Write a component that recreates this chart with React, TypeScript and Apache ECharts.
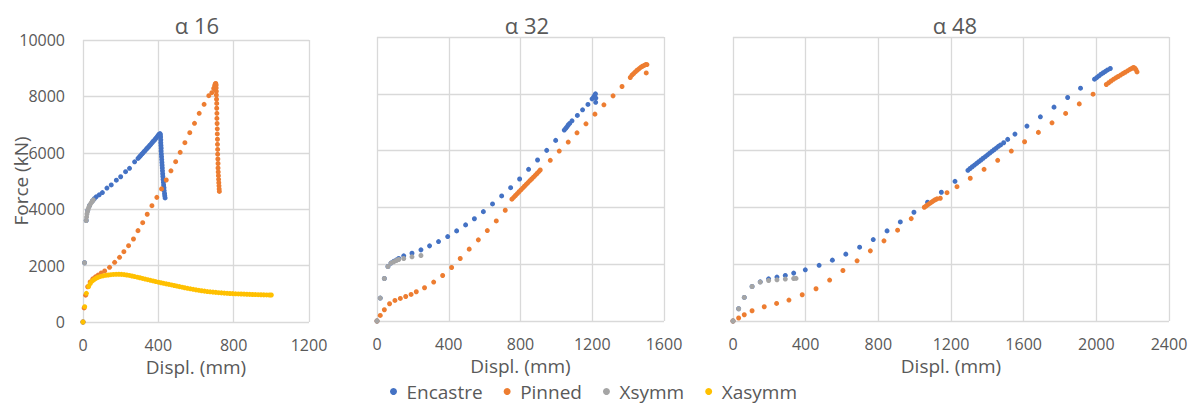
import React, { useEffect, useRef } from "react";
import * as echarts from "echarts";

const seriesNames = ["Encastre", "Pinned", "Xsymm", "Xasymm"];
const seriesColors = ["#4472C4", "#ED7D31", "#A5A5A5", "#FFC000"];
const panelTitles = ["α 16", "α 32", "α 48"];
const xMaxes = [1200, 1600, 2400];
const xInterval = 400;
const yMax = 10000;
const yInterval = 2000;

// ---- α 16 ----
const a16Encastre = [
  [0, 0], [8, 2100], [17, 3600], [25, 3950], [35, 4130], [50, 4290], [60, 4370], [70, 4440], [86, 4510],
  [103, 4590], [127, 4750], [150, 4860], [177, 5030], [200, 5150], [226, 5330], [247, 5450], [274, 5680],
  [292, 5800], [300, 5860], [306, 5900], [312, 5950], [318, 5990], [324, 6040], [330, 6080], [336, 6130],
  [342, 6170], [348, 6210], [354, 6260], [360, 6300], [366, 6350], [372, 6400], [378, 6440], [384, 6490],
  [390, 6540], [396, 6590], [401, 6630], [405, 6660], [409, 6680], [411, 6640], [412, 6560], [413, 6460],
  [413, 6360], [414, 6260], [415, 6160], [415, 6060], [416, 5960], [417, 5860], [418, 5760], [419, 5660],
  [420, 5560], [421, 5460], [422, 5360], [423, 5260], [424, 5160], [425, 5060], [427, 4960], [428, 4860],
  [430, 4760], [431, 4660], [433, 4560], [434, 4480], [436, 4400],
];
const a16Pinned = [
  [0, 0], [6, 500], [14, 950], [25, 1250], [38, 1420], [52, 1530], [66, 1600], [80, 1665], [97, 1740],
  [115, 1810], [141, 1940], [168, 2117], [194, 2294], [217, 2493], [242, 2706], [268, 2943], [292, 3240],
  [317, 3522], [341, 3820], [366, 4125], [392, 4420], [417, 4720], [442, 5035], [467, 5360], [492, 5685],
  [516, 6017], [541, 6358], [567, 6713], [592, 7045], [617, 7400], [643, 7720], [668, 8025], [684, 8131],
  [694, 8280], [699, 8380], [702, 8440], [705, 8460], [707, 8400], [707, 8300], [708, 8180], [708, 8050],
  [709, 7900], [710, 7750], [710, 7580], [711, 7400], [711, 7220], [712, 7040], [713, 6850], [713, 6670],
  [714, 6480], [714, 6300], [715, 6120], [715, 5950], [716, 5780], [717, 5620], [717, 5460], [718, 5320],
  [719, 5190], [720, 5060], [721, 4940], [722, 4830], [723, 4720], [724, 4630],
];
const a16Xsymm = [
  [0, 0], [8, 2100], [17, 3600], [19, 3720], [21, 3830], [24, 3920], [27, 4000], [31, 4070], [35, 4130],
  [40, 4190], [45, 4240], [50, 4290], [55, 4330],
];
const a16Xasymm = [
  [0, 0], [9, 543], [18, 1017], [30, 1260], [38, 1360], [46, 1440], [55, 1490], [64, 1530], [73, 1565],
  [82, 1590], [93, 1615], [106, 1635], [120, 1655], [134, 1668], [148, 1678], [162, 1686], [176, 1690],
  [190, 1692], [204, 1688], [218, 1680], [232, 1668], [246, 1652], [260, 1632], [274, 1612], [288, 1590],
  [302, 1568], [316, 1546], [330, 1522], [344, 1500], [358, 1478], [372, 1456], [386, 1434], [400, 1412],
  [414, 1392], [428, 1372], [442, 1352], [456, 1334], [470, 1314], [484, 1294], [498, 1274], [512, 1254],
  [526, 1234], [540, 1214], [555, 1195], [570, 1176], [585, 1158], [600, 1140], [615, 1124], [630, 1108],
  [645, 1094], [660, 1080], [675, 1070], [690, 1060], [705, 1050], [720, 1040], [735, 1032], [750, 1024],
  [765, 1018], [780, 1012], [795, 1006], [810, 1000], [825, 996], [840, 992], [855, 988], [870, 984],
  [885, 980], [900, 976], [915, 972], [930, 968], [945, 965], [960, 962], [975, 960], [990, 958], [1000, 957],
];

// ---- α 32 ----
const a32Encastre = [
  [0, 0], [18, 808], [41, 1497], [61, 1919], [78, 2040], [93, 2100], [108, 2150], [121, 2200], [149, 2294],
  [195, 2389], [245, 2505], [293, 2646], [343, 2797], [394, 2973], [444, 3173], [494, 3384], [543, 3600],
  [593, 3851], [644, 4122], [695, 4403], [745, 4695], [795, 5000], [845, 5341], [895, 5668], [946, 6008],
  [996, 6360], [1044, 6722], [1052, 6780], [1059, 6838], [1066, 6900], [1074, 6957], [1087, 7049],
  [1117, 7238], [1146, 7435], [1176, 7625], [1199, 7822], [1208, 7892], [1214, 7950], [1218, 8000],
  [1220, 7850], [1219, 7700],
];
const a32Pinned = [
  [0, 0], [18, 197], [41, 397], [70, 608], [100, 724], [130, 794], [160, 864], [190, 935], [219, 1030],
  [265, 1170], [316, 1370], [366, 1602], [416, 1883], [464, 2200], [514, 2530], [565, 2857], [615, 3184],
  [665, 3524], [715, 3900], [752, 4290], [762, 4355], [772, 4420], [782, 4485], [792, 4550], [802, 4615],
  [812, 4680], [822, 4745], [832, 4810], [842, 4875], [852, 4940], [862, 5000], [872, 5065], [882, 5130],
  [892, 5195], [902, 5260], [910, 5316], [966, 5657], [1016, 5984], [1066, 6300], [1115, 6627], [1165, 6943],
  [1215, 7284], [1265, 7611], [1316, 7927], [1366, 8257], [1412, 8573], [1421, 8655], [1430, 8710],
  [1440, 8770], [1450, 8830], [1460, 8880], [1470, 8930], [1480, 8970], [1490, 9000], [1498, 9030],
  [1505, 9030], [1501, 8735],
];
const a32Xsymm = [
  [0, 0], [18, 808], [41, 1497], [61, 1919], [78, 2038], [93, 2084], [108, 2130], [121, 2165], [149, 2200],
  [195, 2259], [245, 2306],
];
const a32Xasymm: number[][] = [];

// ---- α 48 ----
const a48Encastre = [
  [0, 0], [31, 432], [62, 830], [105, 1216], [150, 1380], [196, 1486], [242, 1546], [288, 1602], [334, 1686],
  [398, 1803], [474, 1960], [547, 2143], [621, 2354], [697, 2600], [772, 2867], [848, 3173], [921, 3489],
  [996, 3830], [1071, 4181], [1147, 4533], [1222, 4919], [1293, 5305], [1305, 5370], [1317, 5430],
  [1329, 5490], [1341, 5550], [1353, 5610], [1365, 5670], [1377, 5730], [1389, 5790], [1401, 5850],
  [1413, 5910], [1425, 5970], [1437, 6030], [1449, 6090], [1461, 6150], [1473, 6200], [1490, 6276],
  [1512, 6395], [1552, 6581], [1618, 6862], [1692, 7189], [1767, 7530], [1842, 7871], [1913, 8198],
  [1990, 8514], [2002, 8570], [2014, 8630], [2026, 8690], [2038, 8740], [2050, 8790], [2062, 8840],
  [2077, 8890],
];
const a48Pinned = [
  [0, 0], [31, 105], [62, 221], [105, 362], [172, 502], [240, 618], [308, 738], [381, 924], [457, 1135],
  [532, 1441], [605, 1778], [683, 2119], [756, 2470], [831, 2822], [906, 3197], [981, 3605], [1053, 4006],
  [1063, 4050], [1073, 4095], [1083, 4140], [1093, 4185], [1103, 4230], [1113, 4270], [1123, 4300],
  [1141, 4322], [1178, 4519], [1233, 4730], [1306, 5025], [1382, 5341], [1457, 5657], [1532, 5984],
  [1605, 6311], [1681, 6641], [1756, 6978], [1831, 7308], [1906, 7645], [1982, 7987], [2055, 8327],
  [2068, 8390], [2081, 8450], [2094, 8510], [2107, 8560], [2120, 8610], [2133, 8660], [2146, 8710],
  [2159, 8760], [2172, 8810], [2185, 8860], [2197, 8900], [2205, 8925], [2212, 8900], [2218, 8850],
  [2224, 8770],
];
const a48Xsymm = [
  [0, 0], [31, 432], [62, 830], [105, 1216], [150, 1370], [196, 1427], [242, 1451], [288, 1476], [334, 1497],
  [347, 1500],
];
const a48Xasymm: number[][] = [];

const panelData = [
  [a16Encastre, a16Pinned, a16Xsymm, a16Xasymm],
  [a32Encastre, a32Pinned, a32Xsymm, a32Xasymm],
  [a48Encastre, a48Pinned, a48Xsymm, a48Xasymm],
];

const FONT = "'Open Sans', sans-serif";
const TEXT = "#595959";
const GRIDC = "#d9d9d9";

const grids = [
  { left: 83, top: 40, width: 226, height: 282 },
  { left: 377, top: 37, width: 287, height: 284 },
  { left: 733, top: 37, width: 436, height: 284 },
];
const titleCenters = [192, 522, 950];

const plain = (v: number) => String(v);

export default function App() {
  const ref = useRef<HTMLDivElement>(null);
  useEffect(() => {
    if (!ref.current) return;
    const chart = echarts.init(ref.current, undefined, { renderer: "svg" });
    const series: any[] = [];
    panelData.forEach((sets, p) => {
      sets.forEach((d, s) => {
        series.push({
          type: "scatter",
          name: seriesNames[s],
          xAxisIndex: p,
          yAxisIndex: p,
          data: d,
          symbol: "circle",
          symbolSize: 5,
          itemStyle: { color: seriesColors[s], opacity: 1 },
          emphasis: { disabled: true },
        });
      });
    });
    chart.setOption({
      animation: false,
      textStyle: { fontFamily: FONT },
      title: panelTitles.map((t, i) => ({
        text: t,
        left: titleCenters[i],
        top: 9,
        textAlign: "center",
        textStyle: { fontFamily: FONT, fontSize: 22, fontWeight: "normal", color: TEXT },
      })),
      legend: {
        data: seriesNames,
        left: 390,
        top: 382,
        padding: 0,
        icon: "circle",
        itemWidth: 16,
        itemHeight: 7,
        itemGap: 21,
        textStyle: { fontFamily: FONT, fontSize: 19, color: TEXT, lineHeight: 19 },
      },
      grid: grids,
      xAxis: xMaxes.map((mx, i) => ({
        type: "value",
        gridIndex: i,
        min: 0,
        max: mx,
        interval: xInterval,
        axisLine: { show: false },
        axisTick: { show: false },
        splitLine: { show: true, lineStyle: { color: GRIDC, width: 1.3 } },
        axisLabel: { color: TEXT, fontSize: 16, fontFamily: FONT, margin: 15, lineHeight: 16, formatter: plain },
        name: "Displ. (mm)",
        nameLocation: "middle",
        nameGap: 35,
        nameMoveOverlap: false,
        nameTextStyle: { color: TEXT, fontSize: 19, fontFamily: FONT, lineHeight: 19 },
      })),
      yAxis: xMaxes.map((_, i) => ({
        type: "value",
        gridIndex: i,
        min: 0,
        max: yMax,
        interval: yInterval,
        axisLine: { show: false },
        axisTick: { show: false },
        splitLine: { show: true, lineStyle: { color: GRIDC, width: 1.3 } },
        axisLabel: { show: i === 0, color: TEXT, fontSize: 16, fontFamily: FONT, margin: 18, formatter: plain },
        name: i === 0 ? "Force (kN)" : "",
        nameLocation: "middle",
        nameGap: 53,
        nameMoveOverlap: false,
        nameTextStyle: { color: TEXT, fontSize: 19, fontFamily: FONT },
      })),
      series,
    });
    return () => chart.dispose();
  }, []);
  return (
    <div
      ref={ref}
      style={{ position: "absolute", left: 0, top: 0, width: 1195, height: 403, background: "#fff" }}
    />
  );
}
